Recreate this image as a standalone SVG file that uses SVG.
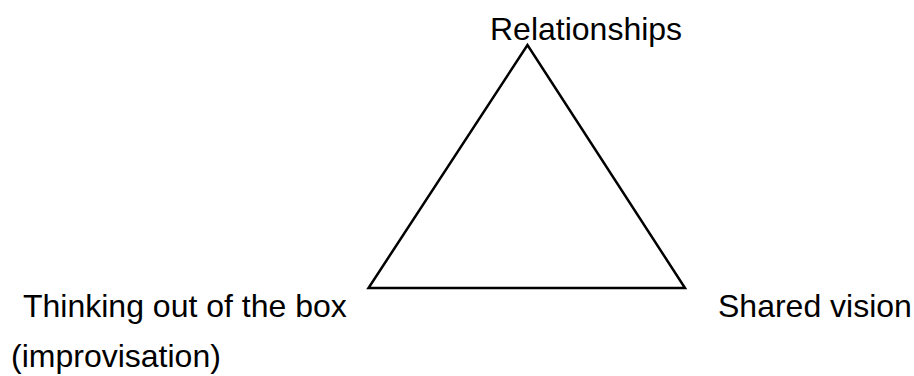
<svg xmlns="http://www.w3.org/2000/svg" width="914" height="376" viewBox="0 0 914 376">
<style>
.lbl{font-family:"Liberation Sans",Arial,sans-serif;font-size:32px;fill:#000}
.edge{stroke:#000;stroke-width:2.5;fill:none;stroke-linejoin:miter}
</style>
<rect width="914" height="376" fill="#fff"/>
<g id="connectors">
<polygon class="edge" points="527.5,45 368.5,288 685,288"/>
</g>
<g id="node-relationships"><text class="lbl" x="490" y="40">Relationships</text></g>
<g id="node-thinking"><text class="lbl" x="23" y="317">Thinking out of the box</text><text class="lbl" x="11" y="367">(improvisation)</text></g>
<g id="node-shared"><text class="lbl" x="718" y="317">Shared vision</text></g>
</svg>
